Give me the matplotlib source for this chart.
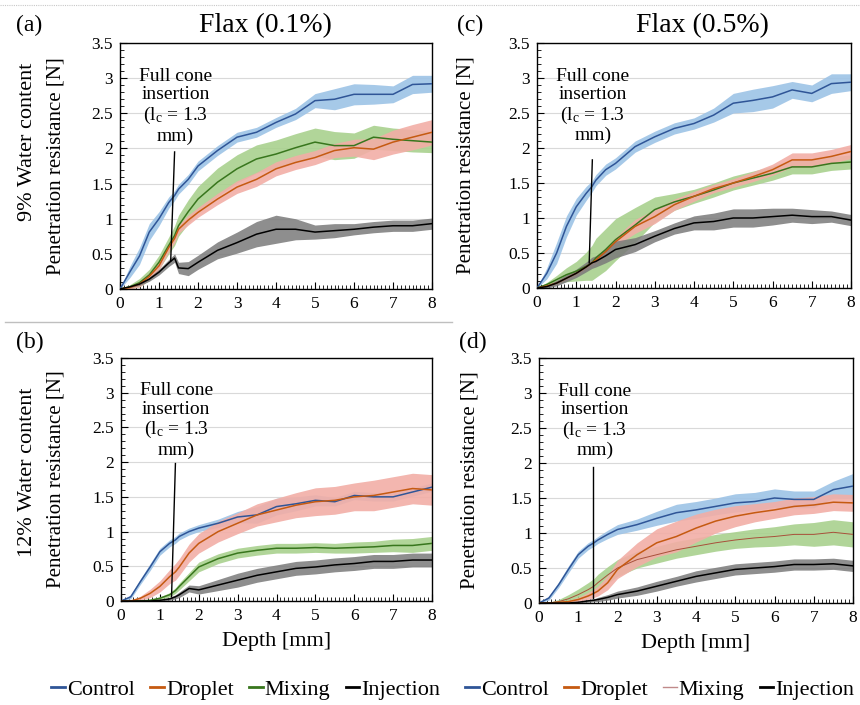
import matplotlib
matplotlib.use("Agg")
import matplotlib.pyplot as plt
from matplotlib.lines import Line2D
from matplotlib.ticker import MultipleLocator, FormatStrFormatter

plt.rcParams["font.family"] = ["Liberation Serif", "DejaVu Serif"]
plt.rcParams["mathtext.fontset"] = "custom"
plt.rcParams["mathtext.rm"] = "Liberation Serif"
plt.rcParams["mathtext.it"] = "Liberation Serif:italic"

# ─── data ──────────────────────────────────────────────────────
DEPTH = [0, 0.25, 0.5, 0.75, 1.0, 1.25, 1.4, 1.5, 1.75, 2.0, 2.5, 3.0,
         3.5, 4.0, 4.5, 5.0, 5.5, 6.0, 6.5, 7.0, 7.5, 8.0]

# (a) Flax 0.1 %, 9 % water
A_CONTROL = [0, 0.24, 0.47, 0.81, 1.00, 1.23, 1.33, 1.42, 1.56, 1.75, 1.97, 2.16,
             2.23, 2.37, 2.49, 2.68, 2.70, 2.77, 2.77, 2.77, 2.91, 2.92]
A_CONTROL_SD = [0, 0.08, 0.12, 0.12, 0.10, 0.08, 0.07, 0.07, 0.07, 0.07, 0.07, 0.07,
                0.07, 0.07, 0.08, 0.10, 0.15, 0.15, 0.14, 0.12, 0.13, 0.12]
A_DROPLET = [0, 0.02, 0.07, 0.18, 0.33, 0.59, 0.72, 0.85, 0.98, 1.09, 1.28, 1.45,
             1.56, 1.71, 1.80, 1.87, 1.97, 2.01, 1.99, 2.09, 2.16, 2.23]
A_DROPLET_SD = [0, 0.02, 0.04, 0.05, 0.06, 0.06, 0.06, 0.06, 0.07, 0.07, 0.08, 0.09,
                0.10, 0.10, 0.10, 0.10, 0.10, 0.12, 0.15, 0.17, 0.18, 0.18]
A_MIXING = [0, 0.03, 0.09, 0.20, 0.38, 0.62, 0.76, 0.90, 1.10, 1.28, 1.52, 1.71,
            1.85, 1.92, 2.01, 2.09, 2.04, 2.04, 2.16, 2.13, 2.11, 2.09]
A_MIXING_SD = [0, 0.03, 0.06, 0.08, 0.10, 0.12, 0.14, 0.15, 0.17, 0.18, 0.20, 0.20,
               0.20, 0.20, 0.20, 0.20, 0.20, 0.18, 0.17, 0.16, 0.16, 0.15]
A_INJECTION = [0, 0.03, 0.07, 0.14, 0.24, 0.37, 0.44, 0.30, 0.29, 0.38, 0.55, 0.66,
               0.78, 0.85, 0.85, 0.81, 0.83, 0.85, 0.88, 0.90, 0.90, 0.93]
A_INJECTION_SD = [0, 0.01, 0.02, 0.03, 0.04, 0.05, 0.06, 0.08, 0.10, 0.10, 0.12, 0.15,
                  0.18, 0.20, 0.15, 0.10, 0.10, 0.08, 0.08, 0.08, 0.08, 0.08]

# (c) Flax 0.5 %, 9 % water
C_CONTROL = [0, 0.21, 0.50, 0.88, 1.16, 1.35, 1.45, 1.54, 1.69, 1.78, 2.02, 2.16,
             2.28, 2.35, 2.47, 2.64, 2.68, 2.73, 2.83, 2.78, 2.92, 2.94]
C_CONTROL_SD = [0, 0.08, 0.15, 0.15, 0.12, 0.10, 0.08, 0.08, 0.08, 0.08, 0.08, 0.08,
                0.08, 0.08, 0.10, 0.14, 0.16, 0.16, 0.12, 0.12, 0.14, 0.12]
C_DROPLET = [0, 0.03, 0.07, 0.14, 0.21, 0.30, 0.36, 0.40, 0.52, 0.66, 0.88, 1.02,
             1.19, 1.31, 1.42, 1.50, 1.59, 1.69, 1.83, 1.83, 1.88, 1.95]
C_DROPLET_SD = [0, 0.01, 0.02, 0.03, 0.04, 0.04, 0.05, 0.05, 0.05, 0.06, 0.10, 0.10,
                0.08, 0.07, 0.06, 0.06, 0.07, 0.08, 0.10, 0.10, 0.10, 0.10]
C_MIXING = [0, 0.05, 0.12, 0.19, 0.24, 0.31, 0.36, 0.43, 0.55, 0.69, 0.90, 1.12,
            1.23, 1.31, 1.40, 1.50, 1.57, 1.64, 1.73, 1.73, 1.78, 1.80]
C_MIXING_SD = [0, 0.03, 0.06, 0.10, 0.14, 0.20, 0.25, 0.28, 0.30, 0.30, 0.25, 0.18,
               0.12, 0.10, 0.10, 0.10, 0.10, 0.10, 0.10, 0.10, 0.10, 0.10]
C_INJECTION = [0, 0.02, 0.07, 0.14, 0.21, 0.30, 0.36, 0.38, 0.46, 0.55, 0.62, 0.74,
               0.85, 0.93, 0.95, 1.00, 1.00, 1.02, 1.04, 1.02, 1.02, 0.97]
C_INJECTION_SD = [0, 0.02, 0.04, 0.05, 0.06, 0.07, 0.08, 0.08, 0.10, 0.12, 0.10, 0.08,
                  0.08, 0.10, 0.12, 0.13, 0.13, 0.12, 0.10, 0.10, 0.08, 0.08]

# (b) Flax 0.1 %, 12 % water
B_CONTROL = [0, 0.06, 0.28, 0.49, 0.71, 0.83, 0.88, 0.93, 1.00, 1.05, 1.12, 1.21,
             1.24, 1.36, 1.40, 1.45, 1.43, 1.52, 1.50, 1.50, 1.57, 1.64]
B_CONTROL_SD = [0, 0.03, 0.04, 0.05, 0.05, 0.05, 0.05, 0.05, 0.05, 0.05, 0.06, 0.08,
                0.12, 0.12, 0.10, 0.08, 0.06, 0.06, 0.06, 0.06, 0.06, 0.06]
B_DROPLET = [0, 0.00, 0.04, 0.11, 0.21, 0.35, 0.42, 0.49, 0.69, 0.83, 1.00, 1.12,
             1.24, 1.31, 1.38, 1.43, 1.45, 1.50, 1.52, 1.57, 1.62, 1.60]
B_DROPLET_SD = [0, 0.01, 0.03, 0.06, 0.08, 0.10, 0.12, 0.12, 0.13, 0.14, 0.15, 0.15,
                0.16, 0.17, 0.18, 0.20, 0.20, 0.20, 0.22, 0.22, 0.22, 0.22]
B_MIXING = [0, 0, 0, 0.01, 0.04, 0.09, 0.15, 0.21, 0.35, 0.49, 0.61, 0.69,
            0.73, 0.76, 0.76, 0.77, 0.76, 0.77, 0.78, 0.80, 0.80, 0.83]
B_MIXING_SD = [0, 0, 0, 0.01, 0.02, 0.03, 0.04, 0.05, 0.06, 0.07, 0.07, 0.07,
               0.07, 0.07, 0.07, 0.07, 0.07, 0.08, 0.08, 0.09, 0.10, 0.10]
B_INJECTION = [0, 0, 0, 0, 0.01, 0.03, 0.06, 0.09, 0.18, 0.16, 0.23, 0.30,
               0.37, 0.42, 0.47, 0.49, 0.52, 0.54, 0.57, 0.57, 0.59, 0.59]
B_INJECTION_SD = [0, 0, 0, 0, 0.01, 0.02, 0.03, 0.04, 0.05, 0.06, 0.08, 0.10,
                  0.10, 0.10, 0.10, 0.10, 0.10, 0.10, 0.10, 0.10, 0.10, 0.10]

# (d) Flax 0.5 %, 12 % water
D_CONTROL = [0, 0.07, 0.26, 0.48, 0.69, 0.81, 0.86, 0.90, 0.98, 1.05, 1.12, 1.21,
             1.29, 1.33, 1.38, 1.43, 1.45, 1.50, 1.48, 1.48, 1.62, 1.67]
D_CONTROL_SD = [0, 0.03, 0.04, 0.05, 0.05, 0.05, 0.05, 0.05, 0.06, 0.07, 0.08, 0.10,
                0.12, 0.12, 0.12, 0.13, 0.13, 0.13, 0.12, 0.12, 0.12, 0.18]
D_DROPLET = [0, 0, 0.01, 0.02, 0.05, 0.10, 0.14, 0.17, 0.29, 0.48, 0.69, 0.86,
             0.95, 1.07, 1.17, 1.24, 1.29, 1.33, 1.38, 1.40, 1.44, 1.43]
D_DROPLET_SD = [0, 0, 0.01, 0.02, 0.03, 0.05, 0.06, 0.07, 0.10, 0.13, 0.17, 0.20,
                0.22, 0.20, 0.17, 0.15, 0.13, 0.12, 0.12, 0.12, 0.12, 0.12]
D_MIXING = [0, 0, 0.02, 0.06, 0.12, 0.19, 0.24, 0.29, 0.40, 0.50, 0.62, 0.69,
            0.76, 0.81, 0.86, 0.90, 0.93, 0.95, 0.98, 0.98, 1.01, 0.98]
D_MIXING_SD = [0, 0.01, 0.03, 0.06, 0.08, 0.10, 0.11, 0.12, 0.12, 0.12, 0.12, 0.12,
               0.12, 0.12, 0.12, 0.12, 0.13, 0.14, 0.15, 0.17, 0.18, 0.18]
D_INJECTION = [0, 0, 0, 0, 0.01, 0.03, 0.04, 0.05, 0.08, 0.12, 0.17, 0.24,
               0.31, 0.38, 0.43, 0.48, 0.50, 0.52, 0.55, 0.55, 0.56, 0.53]
D_INJECTION_SD = [0, 0, 0, 0, 0.01, 0.02, 0.02, 0.03, 0.04, 0.05, 0.06, 0.07,
                  0.07, 0.08, 0.08, 0.08, 0.08, 0.08, 0.08, 0.08, 0.08, 0.08]

SERIES = ["Control", "Droplet", "Mixing", "Injection"]
TITLES = ["Flax (0.1%)", "Flax (0.5%)"]
ROW_LABELS = ["9% Water content", "12% Water content"]
NOTE = "Full cone\ninsertion\n(l$_\\mathrm{c}$ = 1.3\nmm)"
# annotation line: (x_top, y_top, x_bottom, y_bottom)
ANNOT = {"a": (1.40, 1.95, 1.30, 0.40), "c": (1.41, 1.83, 1.33, 0.36),
         "b": (1.40, 1.98, 1.30, 0.06), "d": (1.38, 1.95, 1.38, 0.07)}

# ─── styles ─────────────────────────────────────────────────────
LINE = {"Control": "#2f5597", "Droplet": "#c55a11", "Mixing": "#38761d",
        "Injection": "#000000"}
BAND = {"Control": "#9dc3e6", "Droplet": "#f2aea6", "Mixing": "#a9d18e",
        "Injection": "#7a7a7a"}
MIX_D = "#a8503a"

W, H = 860, 705
fig = plt.figure(figsize=(W / 100, H / 100), dpi=100)


def px_rect(left, top, right, bottom):
    return [left / W, 1 - bottom / H, (right - left) / W, (bottom - top) / H]


panels = {
    "a": (px_rect(120, 43, 432, 289), [A_CONTROL, A_DROPLET, A_MIXING, A_INJECTION],
          [A_CONTROL_SD, A_DROPLET_SD, A_MIXING_SD, A_INJECTION_SD], -0.175),
    "c": (px_rect(537, 43, 851, 288), [C_CONTROL, C_DROPLET, C_MIXING, C_INJECTION],
          [C_CONTROL_SD, C_DROPLET_SD, C_MIXING_SD, C_INJECTION_SD], -0.195),
    "b": (px_rect(121, 358, 432, 601), [B_CONTROL, B_DROPLET, B_MIXING, B_INJECTION],
          [B_CONTROL_SD, B_DROPLET_SD, B_MIXING_SD, B_INJECTION_SD], -0.18),
    "d": (px_rect(539, 358, 853, 603), [D_CONTROL, D_DROPLET, D_MIXING, D_INJECTION],
          [D_CONTROL_SD, D_DROPLET_SD, D_MIXING_SD, D_INJECTION_SD], -0.19),
}

band_order = ["Control", "Mixing", "Droplet", "Injection"]

for key, (rect, means, sds, ylab_x) in panels.items():
    ax = fig.add_axes(rect)
    data = dict(zip(SERIES, zip(means, sds)))
    for name in band_order:
        m, s = data[name]
        lo = [v - e for v, e in zip(m, s)]
        hi = [v + e for v, e in zip(m, s)]
        ax.fill_between(DEPTH, lo, hi, color=BAND[name], lw=0,
                        alpha=0.85 if name == "Injection" else 0.9, zorder=1)
    for name in band_order:
        m, _ = data[name]
        color, lw = LINE[name], 1.1
        if key == "d" and name == "Mixing":
            color, lw = MIX_D, 0.7
        ax.plot(DEPTH, m, color=color, lw=lw, zorder=3)

    xt, yt, xb, yb = ANNOT[key]
    ax.plot([xt, xb], [yt, yb], color="black", lw=1.0, zorder=4)
    ax.text(1.42, 2.6, NOTE, ha="center", va="center", fontsize=14,
            linespacing=1.1, zorder=5)

    ax.set_xlim(0, 8)
    ax.set_ylim(0, 3.5)
    ax.xaxis.set_major_locator(MultipleLocator(1))
    ax.xaxis.set_minor_locator(MultipleLocator(0.1))
    ax.yaxis.set_major_locator(MultipleLocator(0.5))
    ax.yaxis.set_minor_locator(MultipleLocator(0.1))
    ax.yaxis.set_major_formatter(FormatStrFormatter("%g"))
    ax.tick_params(which="both", direction="in", top=False, right=False,
                   labelsize=12.5)
    ax.tick_params(which="major", length=5, width=0.8, pad=5)
    ax.tick_params(which="minor", length=3, width=0.6)
    ax.grid(axis="y", which="major", color="#d9d9d9", lw=0.8, zorder=0)
    ax.set_axisbelow(True)
    for sp in ax.spines.values():
        sp.set_linewidth(1.0)
        sp.set_color("black")
    ax.set_ylabel("Penetration resistance [N]", fontsize=15)
    ax.yaxis.set_label_coords(ylab_x, 0.5)
    if key in ("b", "d"):
        ax.set_xlabel("Depth [mm]", fontsize=16, labelpad=6)

# titles, panel and row labels
fig.text(265 / W, 1 - 26 / H, TITLES[0], ha="center", va="center", fontsize=20)
fig.text(702 / W, 1 - 26 / H, TITLES[1], ha="center", va="center", fontsize=20)
for lab, x, y in [("(a)", 29, 25), ("(c)", 470, 25), ("(b)", 30, 342), ("(d)", 473, 342)]:
    fig.text(x / W, 1 - y / H, lab, ha="center", va="center", fontsize=17)
fig.text(28 / W, 1 - 142 / H, ROW_LABELS[0], rotation=90, ha="center",
         va="center", fontsize=16)
fig.text(27 / W, 1 - 472 / H, ROW_LABELS[1], rotation=90, ha="center",
         va="center", fontsize=16)

# separators
fig.add_artist(Line2D([0, 1], [1 - 5 / H, 1 - 5 / H], color="#c8c8c8",
                      lw=0.8, ls=(0, (1, 1)), transform=fig.transFigure))
fig.add_artist(Line2D([5 / W, 452 / W], [1 - 322 / H, 1 - 322 / H],
                      color="#bfbfbf", lw=1.0, transform=fig.transFigure))

# legends
def handles(mix_color, mix_lw):
    out = []
    for name in SERIES:
        c, lw = LINE[name], 2.0
        if name == "Mixing":
            c, lw = mix_color, mix_lw
        out.append(Line2D([], [], color=c, lw=lw))
    return out


leg_kw = dict(loc="center", ncol=4, frameon=False, fontsize=16,
              handlelength=0.6, handletextpad=0.1, columnspacing=0.7,
              borderaxespad=0, borderpad=0)
fig.legend(handles(LINE["Mixing"], 2.0), SERIES,
           bbox_to_anchor=(246 / W, 1 - 690 / H), **leg_kw)
fig.legend(handles("#c08a8a", 1.0), SERIES,
           bbox_to_anchor=(660 / W, 1 - 690 / H), **leg_kw)

fig.savefig("out.png", dpi=100)
